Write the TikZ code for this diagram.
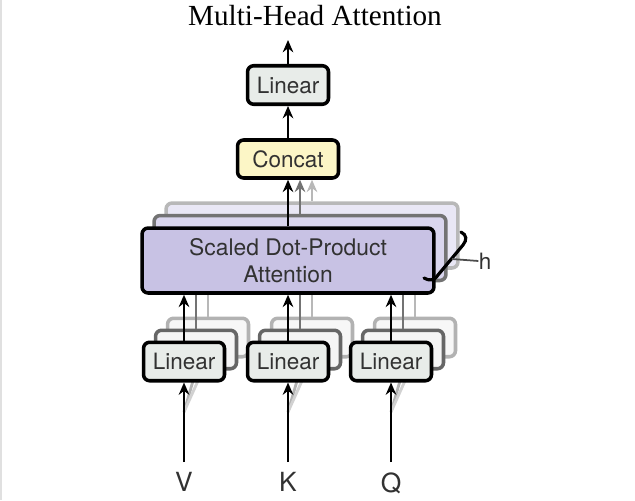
\documentclass[tikz,border=0pt]{standalone}
\usepackage{fontspec}
\setmainfont{Liberation Serif}
\setsansfont{TeX Gyre Heros}
\usetikzlibrary{arrows.meta}
\definecolor{linfill}{RGB}{232,236,233}
\definecolor{catfill}{RGB}{252,246,198}
\definecolor{sdpafill}{RGB}{200,194,228}
\definecolor{sdpafillb}{RGB}{218,214,238}
\definecolor{sdpafillc}{RGB}{233,231,245}
\definecolor{txt}{RGB}{50,50,50}
\tikzset{
  x=0.02cm, y=-0.02cm,
  box/.style={draw=black, line width=2pt, rounded corners=3.5pt, inner sep=0pt,
    font=\sffamily\fontsize{12.8}{14}\selectfont, text=txt},
  linbox/.style={box, fill=linfill, minimum width=1.62cm, minimum height=0.77cm},
  linmid/.style={linbox, draw=black!60, fill=white!96!black},
  linback/.style={linbox, draw=black!30, fill=white!97!black},
  catbox/.style={box, fill=catfill, minimum width=2.02cm, minimum height=0.76cm},
  sdpabox/.style={box, fill=sdpafill, minimum width=5.84cm, minimum height=1.3cm, align=center,
    font=\sffamily\fontsize{13}{15.3}\selectfont},
  sdpamid/.style={sdpabox, draw=black!55, fill=sdpafillb},
  sdpaback/.style={sdpabox, draw=black!28, fill=sdpafillc},
  arr/.style={line width=1.6pt, -{Stealth[length=7pt,width=6pt]}},
  garr/.style={arr, draw=black!55},
  larr/.style={arr, draw=black!28},
  glin/.style={line width=1.6pt, draw=black!30},
  lab/.style={font=\sffamily\fontsize{15}{17}\selectfont, text=txt, inner sep=0pt},
}
\begin{document}
\begin{tikzpicture}
\useasboundingbox (0,0) rectangle (635,500);
\draw[black!12, line width=0.8pt] (1,0) -- (1,500);

% title
\node[font=\fontsize{16.6}{19}\selectfont] (title) at (315,16) {Multi-Head Attention};

% top linear and concat
\node[linbox] (top) at (288,85) {Linear};
\coordinate (out) at (288,40);
\node[catbox] (cat) at (288,159) {Concat};

% SDPA stack (hidden heads)
\node[sdpaback] (s2) at (312,235.5) {\phantom{A}};
\node[sdpamid] (s1) at (300,248) {\phantom{A}};

% bottom linear stacks (hidden heads)
\foreach \n/\x in {v/184, k/288, q/391}{
  \node[linback] (\n2) at (\x+24,337.5) {\phantom{L}};
  \node[linmid] (\n1) at (\x+12,349.5) {\phantom{L}};
  \coordinate (\n in) at (\x,412);
  \draw[glin] (\n in) -- (\n1.south);
  \draw[glin, draw=black!18] (\n in) -- (\n2.south);
  \draw[larr] (\n2.north) -- (\n2.north |- s1.south);
  \draw[garr] (\n1.north) -- (\n1.north |- s1.south);
}

% front SDPA
\node[sdpabox] (sdpa) at (288,260.5) {Scaled Dot-Product\\Attention};

% h annotation
\draw[line width=1.8pt, line cap=round] (461,232) .. controls (467,235) and (467,240) .. (463,245) -- (438,275) .. controls (434,281) and (429,281) .. (424,278);
\node[font=\sffamily\fontsize{12.8}{14}\selectfont, text=txt, inner sep=0pt] (h) at (485,261) {h};
\draw[line width=1pt, black!70] (452,259) -- (h.west);

\foreach \n/\x/\t in {v/184/V, k/288/K, q/391/Q}{
  \node[linbox] (\n) at (\x,361.5) {Linear};
  \node[lab, anchor=north] (\n lab) at (\x,472) {\t};
  \coordinate (\n start) at (\x,462);
  \draw[arr] (\n start) -- (\n.south);
  \draw[arr] (\n.north) -- (sdpa.south -| \n.north);
}

% arrows to concat
\draw[larr] (s2.north -| 312,0) -- (cat.south -| 312,0);
\draw[garr] (s1.north -| 300,0) -- (cat.south -| 300,0);
\draw[arr] (sdpa.north) -- (cat.south);
\draw[arr] (cat.north) -- (top.south);
\draw[arr] (top.north) -- (out);
\end{tikzpicture}
\end{document}
